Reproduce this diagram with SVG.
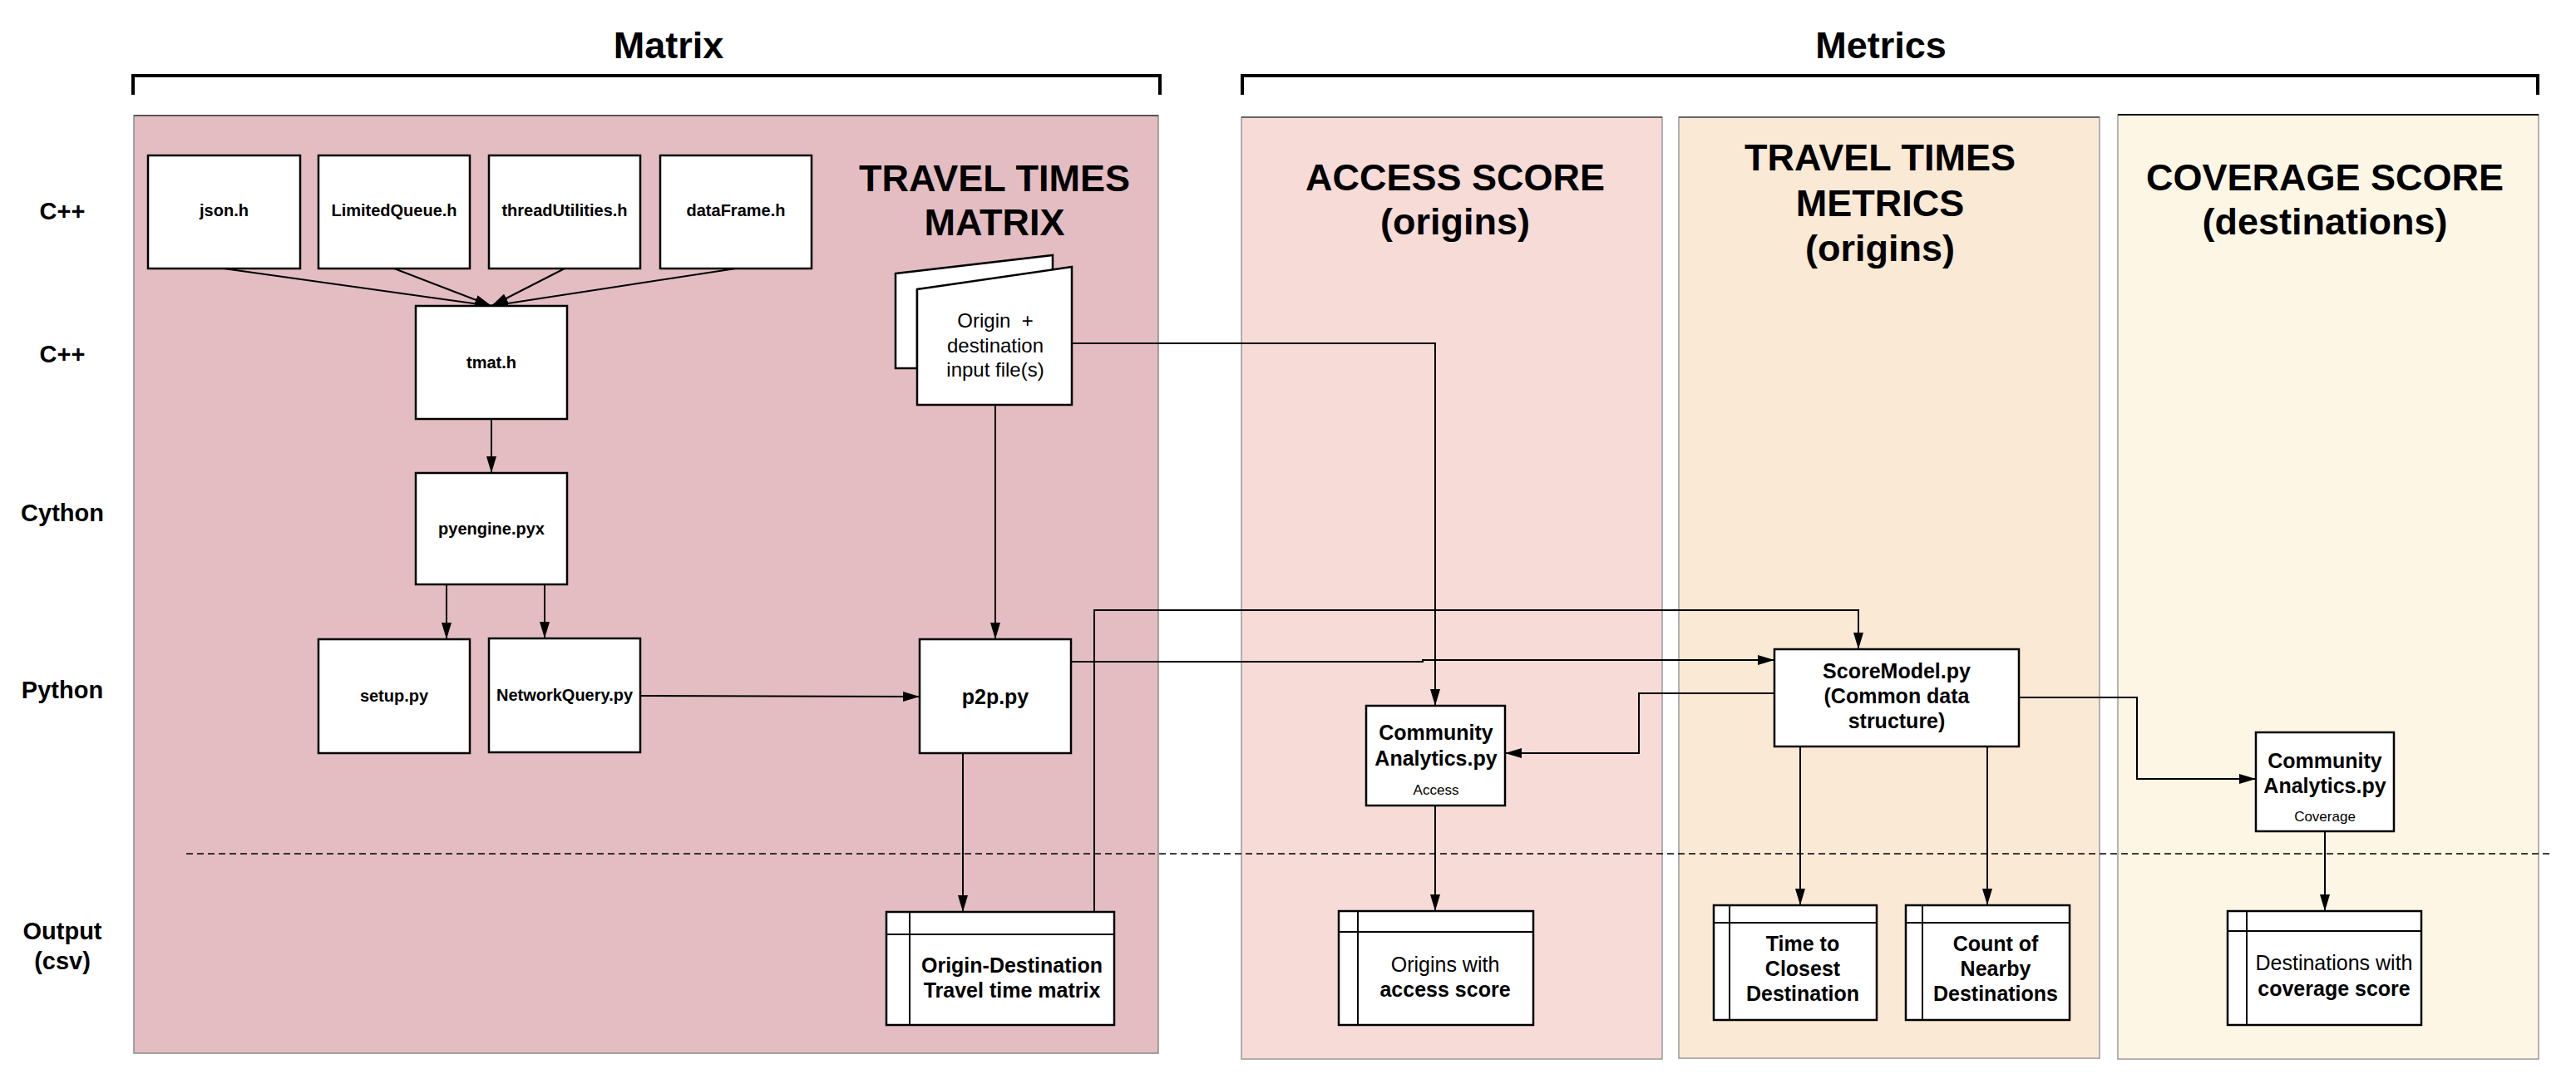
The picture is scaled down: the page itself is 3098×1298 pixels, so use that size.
<svg xmlns="http://www.w3.org/2000/svg" width="3098" height="1298" viewBox="0 0 3098 1298">
<style>
text{font-family:"Liberation Sans",Arial,sans-serif;fill:#000;text-anchor:middle}
.title{font-size:45px;font-weight:bold}
.row{font-size:29px;font-weight:bold}
.sm{font-size:20px;font-weight:bold}
.md{font-size:25px;font-weight:bold}
.reg{font-size:25px}
.doc{font-size:24px;white-space:pre}
.tiny{font-size:17px}
.box{fill:#fff;stroke:#000;stroke-width:2.5}
.conn{fill:none;stroke:#000;stroke-width:2}
.brk{fill:none;stroke:#000;stroke-width:4}
.inner{stroke:#000;stroke-width:2}
</style>
<defs>
<marker id="arr" markerUnits="userSpaceOnUse" markerWidth="20" markerHeight="12" refX="20" refY="6" orient="auto">
<path d="M0,0 L20,6 L0,12 z" fill="#000"/>
</marker>
</defs>
<rect width="3098" height="1298" fill="#fff"/>

<g id="headers">
<text class="title" x="804" y="70">Matrix</text>
<path class="brk" d="M160,114 V91 H1395 V114"/>
<text class="title" x="2262" y="70">Metrics</text>
<path class="brk" d="M1494,114 V91 H3052 V114"/>
</g>

<g id="row-labels">
<text class="row" x="75" y="264">C++</text>
<text class="row" x="75" y="436">C++</text>
<text class="row" x="75" y="627">Cython</text>
<text class="row" x="75" y="840">Python</text>
<text class="row" x="75" y="1130">Output</text>
<text class="row" x="75" y="1166">(csv)</text>
</g>

<g id="panels">
<rect id="panel-matrix" x="161" y="139" width="1232" height="1128" fill="#E3BDC1" stroke="#8a8a8a" stroke-width="1.5"/>
<line x1="161" y1="139" x2="1393" y2="139" stroke="#555" stroke-width="2"/>
<rect id="panel-access" x="1493" y="141" width="506" height="1133" fill="#F6DBD7" stroke="#9a9a9a" stroke-width="1.5"/>
<line x1="1493" y1="141" x2="1999" y2="141" stroke="#666" stroke-width="2"/>
<rect id="panel-travel" x="2019" y="141" width="506" height="1132" fill="#FAE9D5" stroke="#9a9a9a" stroke-width="1.5"/>
<line x1="2019" y1="141" x2="2525" y2="141" stroke="#666" stroke-width="2"/>
<rect id="panel-coverage" x="2547" y="138" width="506" height="1136" fill="#FEF6E5" stroke="#9a9a9a" stroke-width="1.5"/>
<line x1="2547" y1="138" x2="3053" y2="138" stroke="#111" stroke-width="2"/>
<text class="title" x="1196" y="230">TRAVEL TIMES</text>
<text class="title" x="1196" y="283">MATRIX</text>
<text class="title" x="1750" y="229">ACCESS SCORE</text>
<text class="title" x="1750" y="282">(origins)</text>
<text class="title" x="2261" y="205">TRAVEL TIMES</text>
<text class="title" x="2261" y="260">METRICS</text>
<text class="title" x="2261" y="314">(origins)</text>
<text class="title" x="2796" y="229">COVERAGE SCORE</text>
<text class="title" x="2796" y="282">(destinations)</text>
</g>

<line id="divider" x1="224" y1="1027" x2="3068" y2="1027" stroke="#000" stroke-width="1.5" stroke-dasharray="8,5"/>

<g id="connectors">
<path class="conn" marker-end="url(#arr)" d="M269,323 L591,368"/>
<path class="conn" marker-end="url(#arr)" d="M474,323 L591,368"/>
<path class="conn" marker-end="url(#arr)" d="M679,323 L591,368"/>
<path class="conn" marker-end="url(#arr)" d="M885,323 L591,368"/>
<path class="conn" marker-end="url(#arr)" d="M591,504 V569"/>
<path class="conn" marker-end="url(#arr)" d="M537,703 V769"/>
<path class="conn" marker-end="url(#arr)" d="M655,703 V768"/>
<path class="conn" marker-end="url(#arr)" d="M770,837 L1106,838"/>
<path class="conn" marker-end="url(#arr)" d="M1197,487 V769"/>
<path class="conn" marker-end="url(#arr)" d="M1289,413 H1726 V849"/>
<path class="conn" marker-end="url(#arr)" d="M1158,906 V1097"/>
<path class="conn" marker-end="url(#arr)" d="M1288,796 H1711 V794 H2134"/>
<path class="conn" marker-end="url(#arr)" d="M1316,1097 V734 H2235 V781"/>
<path class="conn" marker-end="url(#arr)" d="M2134,834 H1971 V906 H1810"/>
<path class="conn" marker-end="url(#arr)" d="M1726,969 V1096"/>
<path class="conn" marker-end="url(#arr)" d="M2165,898 V1089"/>
<path class="conn" marker-end="url(#arr)" d="M2390,898 V1089"/>
<path class="conn" marker-end="url(#arr)" d="M2428,839 H2570 V937 H2713"/>
<path class="conn" marker-end="url(#arr)" d="M2796,1000 V1096"/>
</g>

<g id="json">
<rect class="box" x="178" y="187" width="183" height="136"/>
<text class="sm" x="269.5" y="260">json.h</text>
</g>
<g id="limitedqueue">
<rect class="box" x="383" y="187" width="182" height="136"/>
<text class="sm" x="474" y="260">LimitedQueue.h</text>
</g>
<g id="threadutilities">
<rect class="box" x="588" y="187" width="182" height="136"/>
<text class="sm" x="679" y="260">threadUtilities.h</text>
</g>
<g id="dataframe">
<rect class="box" x="794" y="187" width="182" height="136"/>
<text class="sm" x="885" y="260">dataFrame.h</text>
</g>
<g id="tmat">
<rect class="box" x="500" y="368" width="182" height="136"/>
<text class="sm" x="591" y="443">tmat.h</text>
</g>
<g id="pyengine">
<rect class="box" x="500" y="569" width="182" height="134"/>
<text class="sm" x="591" y="643">pyengine.pyx</text>
</g>
<g id="setup">
<rect class="box" x="383" y="769" width="182" height="137"/>
<text class="sm" x="474" y="844">setup.py</text>
</g>
<g id="networkquery">
<rect class="box" x="588" y="768" width="182" height="137"/>
<text class="sm" x="679" y="843">NetworkQuery.py</text>
</g>
<g id="p2p">
<rect class="box" x="1106" y="769" width="182" height="137"/>
<text class="md" x="1197" y="847">p2p.py</text>
</g>
<g id="input-files">
<path class="box" d="M1077,329 L1266,307 L1266,330 L1103,348 L1103,443 L1077,443 Z"/>
<path class="box" d="M1103,348 L1289,321 L1289,487 L1103,487 Z"/>
<text class="doc" x="1197" y="394">Origin  +</text>
<text class="doc" x="1197" y="424">destination</text>
<text class="doc" x="1197" y="453">input file(s)</text>
</g>
<g id="od-matrix">
<rect class="box" x="1066" y="1097" width="274" height="136"/>
<line class="inner" x1="1094" y1="1097" x2="1094" y2="1233"/>
<line class="inner" x1="1066" y1="1124" x2="1340" y2="1124"/>
<text class="md" x="1217" y="1170">Origin-Destination</text>
<text class="md" x="1217" y="1200">Travel time matrix</text>
</g>
<g id="ca-access">
<rect class="box" x="1643" y="849" width="167" height="120"/>
<text class="md" x="1727" y="890">Community</text>
<text class="md" x="1727" y="921">Analytics.py</text>
<text class="tiny" x="1727" y="956">Access</text>
</g>
<g id="origins-access">
<rect class="box" x="1610" y="1096" width="234" height="137"/>
<line class="inner" x1="1633" y1="1096" x2="1633" y2="1233"/>
<line class="inner" x1="1610" y1="1121" x2="1844" y2="1121"/>
<text class="reg" x="1738" y="1169">Origins with</text>
<text class="md" x="1738" y="1199">access score</text>
</g>
<g id="scoremodel">
<rect class="box" x="2134" y="781" width="294" height="117"/>
<text class="md" x="2281" y="816">ScoreModel.py</text>
<text class="md" x="2281" y="846">(Common data</text>
<text class="md" x="2281" y="876">structure)</text>
</g>
<g id="time-closest">
<rect class="box" x="2061" y="1089" width="196" height="138"/>
<line class="inner" x1="2080" y1="1089" x2="2080" y2="1227"/>
<line class="inner" x1="2061" y1="1110" x2="2257" y2="1110"/>
<text class="md" x="2168" y="1144">Time to</text>
<text class="md" x="2168" y="1174">Closest</text>
<text class="md" x="2168" y="1204">Destination</text>
</g>
<g id="count-nearby">
<rect class="box" x="2292" y="1089" width="197" height="138"/>
<line class="inner" x1="2312" y1="1089" x2="2312" y2="1227"/>
<line class="inner" x1="2292" y1="1110" x2="2489" y2="1110"/>
<text class="md" x="2400" y="1144">Count of</text>
<text class="md" x="2400" y="1174">Nearby</text>
<text class="md" x="2400" y="1204">Destinations</text>
</g>
<g id="ca-coverage">
<rect class="box" x="2713" y="881" width="166" height="119"/>
<text class="md" x="2796" y="924">Community</text>
<text class="md" x="2796" y="954">Analytics.py</text>
<text class="tiny" x="2796" y="988">Coverage</text>
</g>
<g id="destinations-coverage">
<rect class="box" x="2679" y="1096" width="233" height="137"/>
<line class="inner" x1="2702" y1="1096" x2="2702" y2="1233"/>
<line class="inner" x1="2679" y1="1120" x2="2912" y2="1120"/>
<text class="reg" x="2807" y="1167">Destinations with</text>
<text class="md" x="2807" y="1198">coverage score</text>
</g>
</svg>
